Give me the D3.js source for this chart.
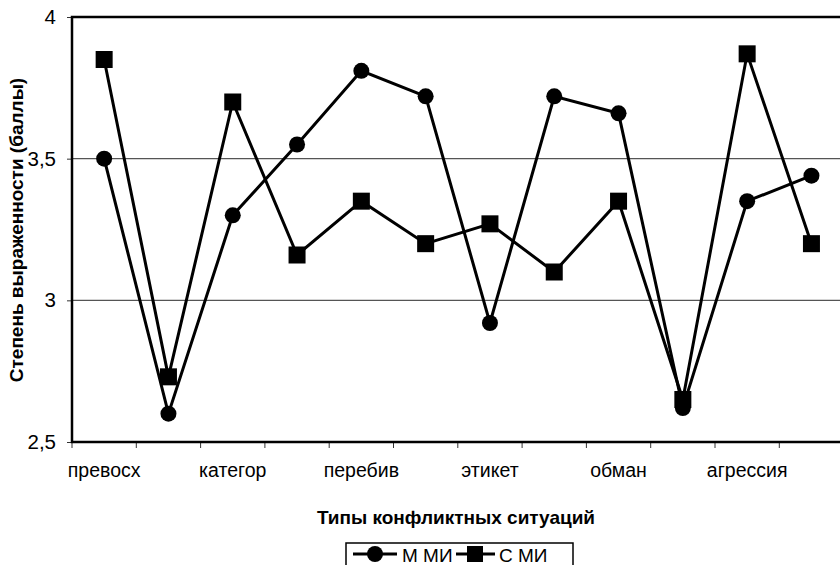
<!DOCTYPE html>
<html><head><meta charset="utf-8">
<script src="https://cdn.jsdelivr.net/npm/d3@7"></script>
<style>body{margin:0;background:#fff}svg{display:block}text{font-family:"Liberation Sans",Arial,sans-serif}</style>
</head><body><svg id="c" width="840" height="565"></svg>
<script>
const categories = ["превосх","снисх","категор","игнор","перебив","критика","этикет","угроза","обман","насмешка","агрессия","обида"];
const shownLabels = ["превосх","категор","перебив","этикет","обман","агрессия"];
const seriesM = [3.5, 2.6, 3.3, 3.55, 3.81, 3.72, 2.92, 3.72, 3.66, 2.62, 3.35, 3.44];
const seriesC = [3.85, 2.73, 3.7, 3.16, 3.35, 3.2, 3.27, 3.1, 3.35, 2.65, 3.87, 3.2];
const yTicks = [2.5, 3, 3.5, 4];
const seriesNames = ["М МИ", "С МИ"];

const svg = d3.select("#c");
const pL = 72, pT = 17, pB = 442, bandW = 64.3;
const pR = pL + bandW * categories.length;
const x = d3.scaleBand().domain(categories).range([pL, pR]).padding(0);
const y = d3.scaleLinear().domain([2.5, 4]).range([pB, pT]);

// gridlines
svg.append("g").selectAll("line").data([3, 3.5]).join("line")
  .attr("x1", pL).attr("x2", pR).attr("y1", d => y(d)).attr("y2", d => y(d))
  .attr("stroke", "#555").attr("stroke-width", 1.2);

// axes
const yAxis = d3.axisLeft(y).tickValues(yTicks).tickSize(5).tickPadding(11)
  .tickFormat(d => String(d).replace(".", ","));
const gy = svg.append("g").attr("transform", `translate(${pL},0)`).call(yAxis);
gy.select(".domain").remove();
gy.selectAll(".tick line").attr("stroke", "#333");
gy.selectAll("text").attr("font-size", 20.5).attr("fill", "#000");

const xAxis = d3.axisBottom(x).tickSize(0).tickPadding(21)
  .tickFormat(d => shownLabels.includes(d) ? d : "");
const gx = svg.append("g").attr("transform", `translate(0,${pB})`).call(xAxis);
gx.select(".domain").remove();
gx.selectAll("text").attr("font-size", 19.5).attr("fill", "#000");
// boundary ticks
svg.append("g").selectAll("line").data(d3.range(categories.length)).join("line")
  .attr("x1", i => x(categories[i])).attr("x2", i => x(categories[i]))
  .attr("y1", pB).attr("y2", pB + 6).attr("stroke", "#333").attr("stroke-width", 1);

// frame
svg.append("path").attr("d", `M${pR},${pT}H${pL}V${pB}H${pR}`)
  .attr("fill", "none").attr("stroke", "#000").attr("stroke-width", 2.5);

const cx = d => x(d) + x.bandwidth() / 2;
const line = d3.line().x((d, i) => cx(categories[i])).y(d => y(d));

svg.append("path").datum(seriesM).attr("d", line).attr("fill", "none").attr("stroke", "#000").attr("stroke-width", 3);
svg.append("path").datum(seriesC).attr("d", line).attr("fill", "none").attr("stroke", "#000").attr("stroke-width", 3);

svg.append("g").selectAll("circle").data(seriesM).join("circle")
  .attr("cx", (d, i) => cx(categories[i])).attr("cy", d => y(d)).attr("r", 8).attr("fill", "#000");
const s = 17;
svg.append("g").selectAll("rect").data(seriesC).join("rect")
  .attr("x", (d, i) => cx(categories[i]) - s / 2).attr("y", d => y(d) - s / 2)
  .attr("width", s).attr("height", s).attr("fill", "#000");

// titles
svg.append("text").attr("x", 456).attr("y", 524).attr("text-anchor", "middle")
  .attr("font-size", 19).attr("font-weight", "bold").text("Типы конфликтных ситуаций");
svg.append("text").attr("transform", "translate(23,230) rotate(-90)").attr("text-anchor", "middle")
  .attr("font-size", 19).attr("font-weight", "bold").text("Степень выраженности (баллы)");

// legend
const lg = svg.append("g");
lg.append("rect").attr("x", 346).attr("y", 543).attr("width", 227).attr("height", 30)
  .attr("fill", "#fff").attr("stroke", "#000").attr("stroke-width", 1.5);
lg.append("line").attr("x1", 353).attr("x2", 397).attr("y1", 554).attr("y2", 554).attr("stroke", "#000").attr("stroke-width", 3);
lg.append("circle").attr("cx", 375).attr("cy", 554).attr("r", 8).attr("fill", "#000");
lg.append("text").attr("x", 402).attr("y", 562).attr("font-size", 19).text(seriesNames[0]);
lg.append("line").attr("x1", 456).attr("x2", 495).attr("y1", 554).attr("y2", 554).attr("stroke", "#000").attr("stroke-width", 3);
lg.append("rect").attr("x", 467).attr("y", 546).attr("width", 16).attr("height", 16).attr("fill", "#000");
lg.append("text").attr("x", 499).attr("y", 562).attr("font-size", 19).text(seriesNames[1]);
</script></body></html>
